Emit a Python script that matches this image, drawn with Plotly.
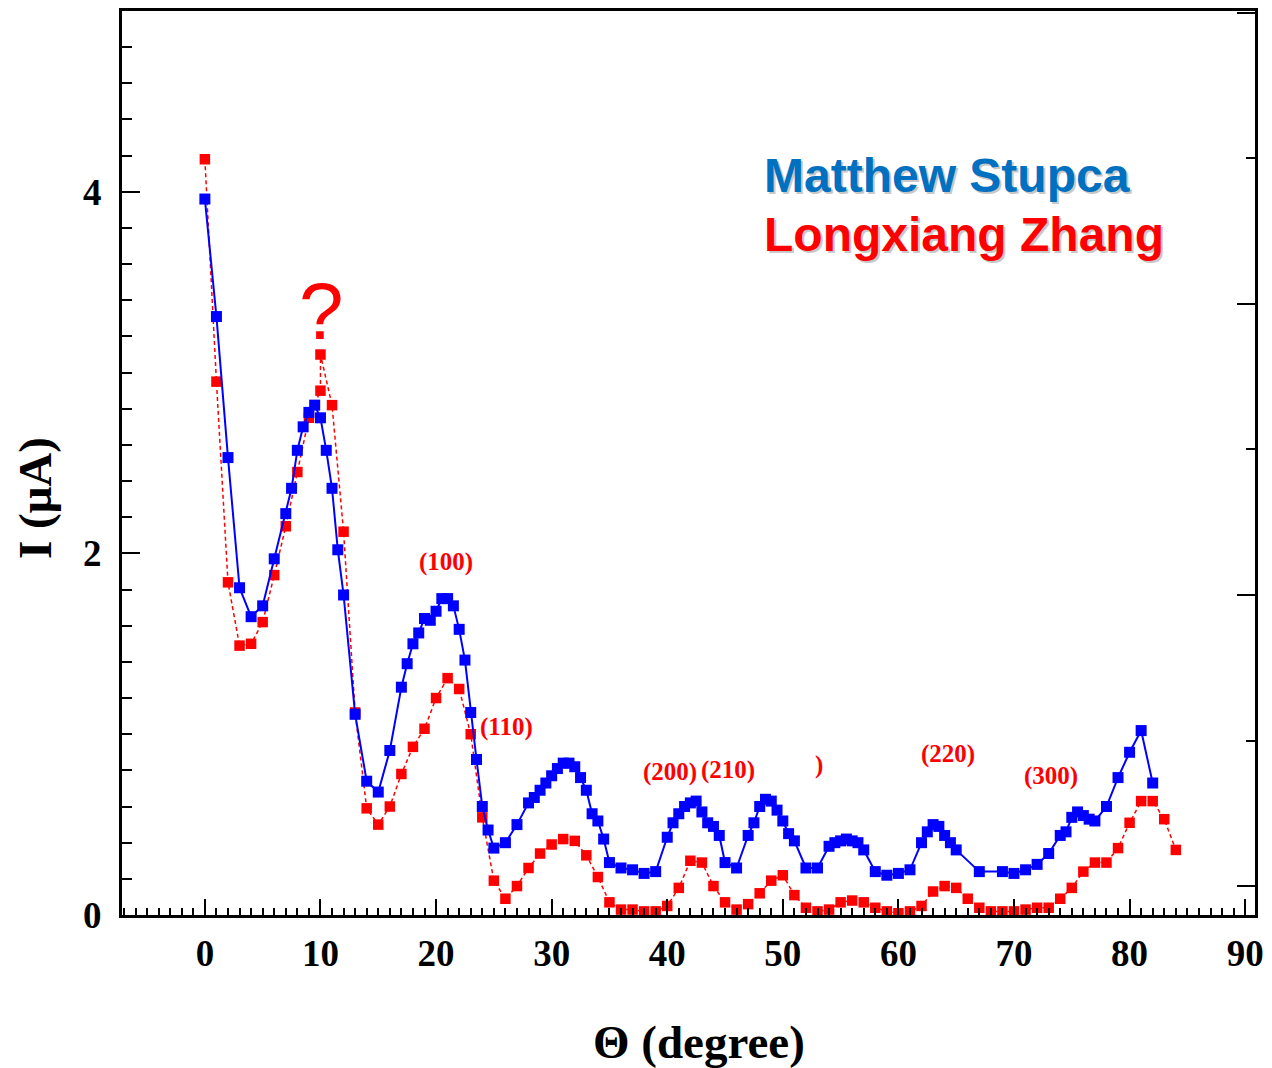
import plotly.graph_objects as go

# Matthew Stupca (blue, solid)
theta_ms = [0, 1, 2, 3, 4, 5, 6, 7, 7.5, 8, 8.5, 9, 9.5, 10, 10.5, 11, 11.5, 12, 13, 14,
            15, 16, 17, 17.5, 18, 18.5, 19, 19.5, 20, 20.5, 21, 21.5, 22, 22.5, 23, 23.5, 24, 24.5, 25, 26,
            27, 28, 28.5, 29, 29.5, 30, 30.5, 31, 31.5, 32, 32.5, 33, 33.5, 34, 34.5, 35, 36, 37, 38, 39,
            40, 40.5, 41, 41.5, 42, 42.5, 43, 43.5, 44, 44.5, 45, 46, 47, 47.5, 48, 48.5, 49, 49.5, 50, 50.5,
            51, 52, 53, 54, 54.5, 55, 55.5, 56, 56.5, 57, 58, 59, 60, 61, 62, 62.5, 63, 63.5, 64, 64.5,
            65, 67, 69, 70, 71, 72, 73, 74, 74.5, 75, 75.5, 76, 76.5, 77, 78, 79, 80, 81, 82]
i_ms = [3.96, 3.31, 2.53, 1.81, 1.65, 1.71, 1.97, 2.22, 2.36, 2.57, 2.70, 2.78, 2.82, 2.75, 2.57, 2.36, 2.02, 1.77, 1.11, 0.74,
        0.68, 0.91, 1.26, 1.39, 1.50, 1.56, 1.64, 1.63, 1.68, 1.75, 1.75, 1.71, 1.58, 1.41, 1.12, 0.86, 0.60, 0.47, 0.37, 0.40,
        0.50, 0.62, 0.65, 0.69, 0.73, 0.77, 0.81, 0.84, 0.84, 0.82, 0.76, 0.69, 0.56, 0.52, 0.42, 0.29, 0.26, 0.25, 0.23, 0.24,
        0.43, 0.51, 0.56, 0.60, 0.62, 0.63, 0.57, 0.51, 0.49, 0.44, 0.29, 0.26, 0.44, 0.51, 0.60, 0.64, 0.63, 0.58, 0.52, 0.45,
        0.41, 0.26, 0.26, 0.38, 0.40, 0.41, 0.42, 0.41, 0.40, 0.36, 0.24, 0.22, 0.23, 0.25, 0.40, 0.46, 0.50, 0.49, 0.44, 0.40,
        0.36, 0.24, 0.24, 0.23, 0.25, 0.28, 0.34, 0.44, 0.46, 0.54, 0.57, 0.55, 0.53, 0.52, 0.60, 0.76, 0.90, 1.02, 0.73]

# Longxiang Zhang (red, dashed)
theta_lz = [0, 1, 2, 3, 4, 5, 6, 7, 8, 9, 10, 10, 11, 12, 13, 14, 15, 16, 17, 18,
            19, 20, 21, 22, 23, 24, 25, 26, 27, 28, 29, 30, 31, 32, 33, 34, 35, 36, 37, 38,
            39, 40, 41, 42, 43, 44, 45, 46, 47, 48, 49, 50, 51, 52, 53, 54, 55, 56, 57, 58,
            59, 60, 61, 62, 63, 64, 65, 66, 67, 68, 69, 70, 71, 72, 73, 74, 75, 76, 77, 78,
            79, 80, 81, 82, 83, 84]
i_lz = [4.18, 2.95, 1.84, 1.49, 1.50, 1.62, 1.88, 2.15, 2.45, 2.75, 2.90, 3.10, 2.82, 2.12, 1.12, 0.59, 0.50, 0.60, 0.78, 0.93,
        1.03, 1.20, 1.31, 1.25, 1.00, 0.54, 0.19, 0.09, 0.16, 0.26, 0.34, 0.39, 0.42, 0.41, 0.33, 0.21, 0.07, 0.03, 0.03, 0.02,
        0.02, 0.05, 0.15, 0.30, 0.29, 0.16, 0.07, 0.03, 0.06, 0.12, 0.19, 0.22, 0.11, 0.04, 0.02, 0.03, 0.07, 0.08, 0.07, 0.04,
        0.02, 0.01, 0.02, 0.05, 0.13, 0.16, 0.15, 0.09, 0.04, 0.02, 0.02, 0.02, 0.03, 0.04, 0.04, 0.09, 0.15, 0.24, 0.29, 0.29,
        0.37, 0.51, 0.63, 0.63, 0.53, 0.36]

# peak labels: text, theta, current
peak_text = ["(100)", "(110)", "(200)", "(210)", ")", "(220)", "(300)"]
peak_x = [20.9, 26.1, 40.2, 45.25, 53.1, 64.25, 73.2]
peak_y = [1.95, 1.04, 0.79, 0.80, 0.83, 0.89, 0.77]

serif = "Liberation Serif"
sans = "Liberation Sans"

fig = go.Figure()
fig.add_trace(go.Scatter(x=theta_lz, y=i_lz, mode="lines+markers",
                         line=dict(color="#ff0000", width=1.5, dash="4px,3px"),
                         marker=dict(symbol="square", size=10.5, color="#ff0000"),
                         showlegend=False))
fig.add_trace(go.Scatter(x=theta_ms, y=i_ms, mode="lines+markers",
                         line=dict(color="#0000ff", width=2),
                         marker=dict(symbol="square", size=11, color="#0000ff"),
                         showlegend=False))
# empty trace so the right-hand tick axis gets drawn
fig.add_trace(go.Scatter(x=[], y=[], yaxis="y2", showlegend=False, hoverinfo="skip"))

for t, px, py in zip(peak_text, peak_x, peak_y):
    fig.add_annotation(x=px, y=py, text=t, showarrow=False,
                       font=dict(family=serif, size=25, color="#ff0000", weight="bold"))

fig.add_annotation(x=10.1, y=3.34, text="?", showarrow=False,
                   font=dict(family=sans, size=80, color="#ff0000"))

# names with a soft shadow
for name, yy, col in [("Matthew Stupca", 4.09, "#0070c0"), ("Longxiang Zhang", 3.765, "#ff0000")]:
    fig.add_annotation(x=48.2, y=yy, text=name, showarrow=False, xanchor="left",
                       xshift=2, yshift=-2,
                       font=dict(family=sans, size=48, color="#c8c8c8", weight="bold"))
    fig.add_annotation(x=48.2, y=yy, text=name, showarrow=False, xanchor="left",
                       font=dict(family=sans, size=48, color=col, weight="bold"))

fig.add_annotation(xref="paper", yref="paper", x=0.509, y=-0.14, xanchor="center", yanchor="middle",
                   text="Θ (degree)", showarrow=False,
                   font=dict(family=serif, size=47, color="black", weight="bold"))
fig.add_annotation(xref="paper", yref="paper", x=-0.077, y=0.461, xanchor="center", yanchor="middle",
                   text="I (μA)", textangle=-90, showarrow=False,
                   font=dict(family=serif, size=47, color="black", weight="bold"))

fig.update_layout(
    width=1272, height=1068,
    margin=dict(l=122, r=15, t=8, b=153),
    plot_bgcolor="white", paper_bgcolor="white",
    xaxis=dict(range=[-7.17, 90.85], dtick=10, tick0=0, showgrid=False, zeroline=False,
               showline=True, linewidth=3, linecolor="black", mirror=True,
               ticks="inside", ticklen=16, tickwidth=2, tickcolor="black",
               minor=dict(dtick=1, ticks="inside", ticklen=7, tickwidth=2, tickcolor="black"),
               ticklabelstandoff=4,
               tickfont=dict(family=serif, size=37, color="black", weight="bold")),
    yaxis=dict(range=[0, 5], dtick=2, tick0=0, showgrid=False, zeroline=False,
               showline=True, linewidth=3, linecolor="black", mirror=True,
               ticks="inside", ticklen=18, tickwidth=2, tickcolor="black",
               minor=dict(dtick=0.2, ticks="inside", ticklen=10, tickwidth=2, tickcolor="black"),
               ticklabelstandoff=10,
               tickfont=dict(family=serif, size=37, color="black", weight="bold")),
    yaxis2=dict(overlaying="y", side="right", range=[-0.199, 6.013], dtick=2, tick0=0,
                showgrid=False, zeroline=False, showticklabels=False, showline=False,
                ticks="inside", ticklen=18, tickwidth=2, tickcolor="black",
                minor=dict(dtick=1, ticks="inside", ticklen=9, tickwidth=2, tickcolor="black")),
)

fig.write_html("out.html", config={"displayModeBar": False},
               post_script="document.body.style.margin='0';")
